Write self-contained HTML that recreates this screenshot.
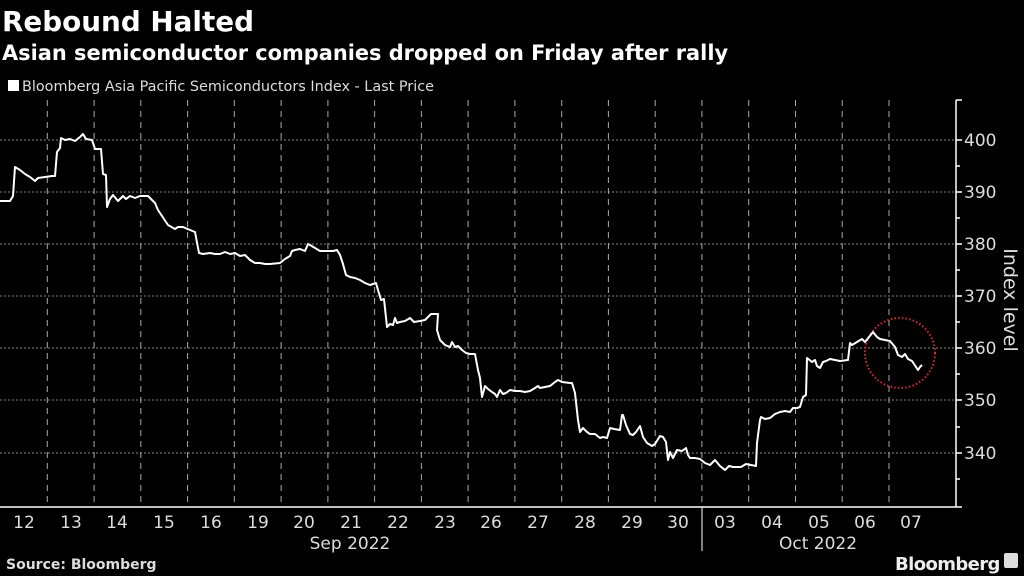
<!DOCTYPE html>
<html><head><meta charset="utf-8"><style>
body{margin:0;background:#000;width:1024px;height:576px;overflow:hidden;font-family:"Liberation Sans","DejaVu Sans",sans-serif;color:#fff}
</style></head><body>
<svg width="1024" height="576" xmlns="http://www.w3.org/2000/svg" style="position:absolute;left:0;top:0">
<rect width="1024" height="576" fill="#000"/>
<text x="2" y="31" font-size="27.8" font-weight="bold" fill="#fff" font-family="DejaVu Sans, sans-serif">Rebound Halted</text>
<text x="2" y="60" font-size="20.9" font-weight="bold" fill="#fff" font-family="DejaVu Sans, sans-serif">Asian semiconductor companies dropped on Friday after rally</text>
<rect x="8" y="80" width="11" height="11" fill="#fff"/>
<text x="22" y="91" font-size="14.4" fill="#ddd" font-family="DejaVu Sans, sans-serif">Bloomberg Asia Pacific Semiconductors Index - Last Price</text>
<g stroke="#888" stroke-width="1" stroke-dasharray="2,2">
<line x1="0" y1="140" x2="955" y2="140"/><line x1="0" y1="192" x2="955" y2="192"/><line x1="0" y1="244" x2="955" y2="244"/><line x1="0" y1="296" x2="955" y2="296"/><line x1="0" y1="348" x2="955" y2="348"/><line x1="0" y1="400" x2="955" y2="400"/><line x1="0" y1="453" x2="955" y2="453"/>
</g>
<g stroke="#aaa" stroke-width="1" stroke-dasharray="6,5">
<line x1="47.3" y1="100" x2="47.3" y2="507"/><line x1="94.1" y1="100" x2="94.1" y2="507"/><line x1="140.8" y1="100" x2="140.8" y2="507"/><line x1="187.6" y1="100" x2="187.6" y2="507"/><line x1="234.3" y1="100" x2="234.3" y2="507"/><line x1="281.1" y1="100" x2="281.1" y2="507"/><line x1="327.9" y1="100" x2="327.9" y2="507"/><line x1="374.6" y1="100" x2="374.6" y2="507"/><line x1="421.4" y1="100" x2="421.4" y2="507"/><line x1="468.1" y1="100" x2="468.1" y2="507"/><line x1="514.9" y1="100" x2="514.9" y2="507"/><line x1="561.7" y1="100" x2="561.7" y2="507"/><line x1="608.4" y1="100" x2="608.4" y2="507"/><line x1="655.2" y1="100" x2="655.2" y2="507"/><line x1="701.9" y1="100" x2="701.9" y2="507"/><line x1="748.7" y1="100" x2="748.7" y2="507"/><line x1="795.5" y1="100" x2="795.5" y2="507"/><line x1="842.2" y1="100" x2="842.2" y2="507"/><line x1="889" y1="100" x2="889" y2="507"/>
</g>
<line x1="0" y1="507" x2="956" y2="507" stroke="#fff" stroke-width="1.5"/>
<line x1="956" y1="100" x2="956" y2="507" stroke="#fff" stroke-width="1.5"/>
<line x1="702" y1="507" x2="702" y2="551" stroke="#fff" stroke-width="1"/>
<g stroke="#fff" stroke-width="1.5">
<line x1="956" y1="100" x2="962" y2="100"/><line x1="956" y1="140" x2="962" y2="140"/><line x1="956" y1="166" x2="960" y2="166"/><line x1="956" y1="192" x2="962" y2="192"/><line x1="956" y1="218" x2="960" y2="218"/><line x1="956" y1="244" x2="962" y2="244"/><line x1="956" y1="270" x2="960" y2="270"/><line x1="956" y1="296" x2="962" y2="296"/><line x1="956" y1="322" x2="960" y2="322"/><line x1="956" y1="348" x2="962" y2="348"/><line x1="956" y1="374" x2="960" y2="374"/><line x1="956" y1="400" x2="962" y2="400"/><line x1="956" y1="427" x2="960" y2="427"/><line x1="956" y1="453" x2="962" y2="453"/><line x1="956" y1="479" x2="960" y2="479"/><line x1="956" y1="507" x2="962" y2="507"/>
</g>
<g fill="#ddd" font-size="17" font-family="DejaVu Sans, sans-serif">
<text x="964" y="146">400</text><text x="964" y="198">390</text><text x="964" y="250">380</text><text x="964" y="302">370</text><text x="964" y="354">360</text><text x="964" y="406">350</text><text x="964" y="459">340</text>
</g>
<text transform="translate(1004,300) rotate(90)" text-anchor="middle" font-size="19" fill="#ddd" font-family="DejaVu Sans, sans-serif">Index level</text>
<g fill="#ddd" font-size="17" font-family="DejaVu Sans, sans-serif" text-anchor="middle">
<text x="24" y="528">12</text><text x="71" y="528">13</text><text x="117" y="528">14</text><text x="164" y="528">15</text><text x="211" y="528">16</text><text x="258" y="528">19</text><text x="304" y="528">20</text><text x="351" y="528">21</text><text x="398" y="528">22</text><text x="445" y="528">23</text><text x="491" y="528">26</text><text x="538" y="528">27</text><text x="585" y="528">28</text><text x="632" y="528">29</text><text x="678" y="528">30</text><text x="725" y="528">03</text><text x="772" y="528">04</text><text x="819" y="528">05</text><text x="865" y="528">06</text><text x="911" y="528">07</text>
<text x="350" y="549">Sep 2022</text><text x="818" y="549">Oct 2022</text>
</g>
<text x="6" y="569" font-size="14" font-weight="bold" fill="#ddd" font-family="DejaVu Sans, sans-serif">Source: Bloomberg</text>
<text x="895" y="570" font-size="18" font-weight="bold" fill="#eee" font-family="DejaVu Sans, sans-serif" letter-spacing="-0.6">Bloomberg</text>
<rect x="1004" y="553" width="14" height="15" rx="2" fill="#ddd"/>
<circle cx="900" cy="353" r="35" fill="none" stroke="#e8203c" stroke-width="2" stroke-dasharray="1.5,2.2"/>
<polyline fill="none" stroke="#fff" stroke-width="2" stroke-linejoin="round" points="0,201 10,201 13,196 15,167 20,170 25,174 30,177 35,181 38,178 45,177 52,176 55,176 57,152 60,148 61,138 65,140 70,139 75,141 80,137 83,134 86,139 92,140 95,149 101,149 103,174 106,175 107,207 110,199 113,195 118,201 123,196 126,199 130,196 135,198 140,196 148,196 155,203 158,210 162,216 168,225 175,229 178,227 183,227 190,230 195,232 199,253 203,254 210,253 215,254 220,254 225,252 230,254 235,253 240,256 245,255 250,260 255,263 260,263 265,264 270,264 280,263 285,259 290,256 292,251 295,250 300,249 305,251 308,244 310,245 315,248 320,251 326,251 333,251 337,250 340,255 343,264 346,275 350,277 355,278 360,280 365,283 370,285 376,283 378,290 381,300 384,299 387,327 390,324 393,325 395,318 397,323 400,322 405,321 410,318 414,322 420,321 425,320 431,314 438,314 437,330 440,340 445,345 450,347 452,342 455,347 458,346 462,350 466,353 470,354 475,354 478,370 480,378 482,397 485,386 488,389 492,392 495,394 497,397 500,390 503,394 506,393 510,390 515,391 520,391 525,392 530,391 535,388 538,386 540,388 545,387 550,386 555,382 558,380 562,382 570,383 572,383 575,393 578,420 580,432 583,428 587,432 590,434 595,434 600,438 603,437 607,438 610,428 614,429 620,430 622,415 623,415 626,425 630,434 633,435 636,432 640,426 643,437 647,443 652,446 655,444 660,436 663,437 666,442 668,460 670,452 673,458 677,450 682,451 686,448 688,455 690,458 695,458 700,459 705,463 710,465 715,460 720,466 725,470 729,466 733,467 741,467 746,464 756,466 757,443 760,420 761,417 765,419 770,418 775,414 780,412 785,411 790,412 793,408 797,408 800,407 803,397 806,395 807,358 812,362 815,360 817,366 820,368 823,362 826,361 830,359 835,360 840,361 848,360 850,343 852,345 857,342 862,339 865,342 873,332 877,337 880,339 885,340 890,341 895,347 898,355 902,357 905,354 908,359 912,361 918,370 920,367 922,365"/>
</svg>
</body></html>
